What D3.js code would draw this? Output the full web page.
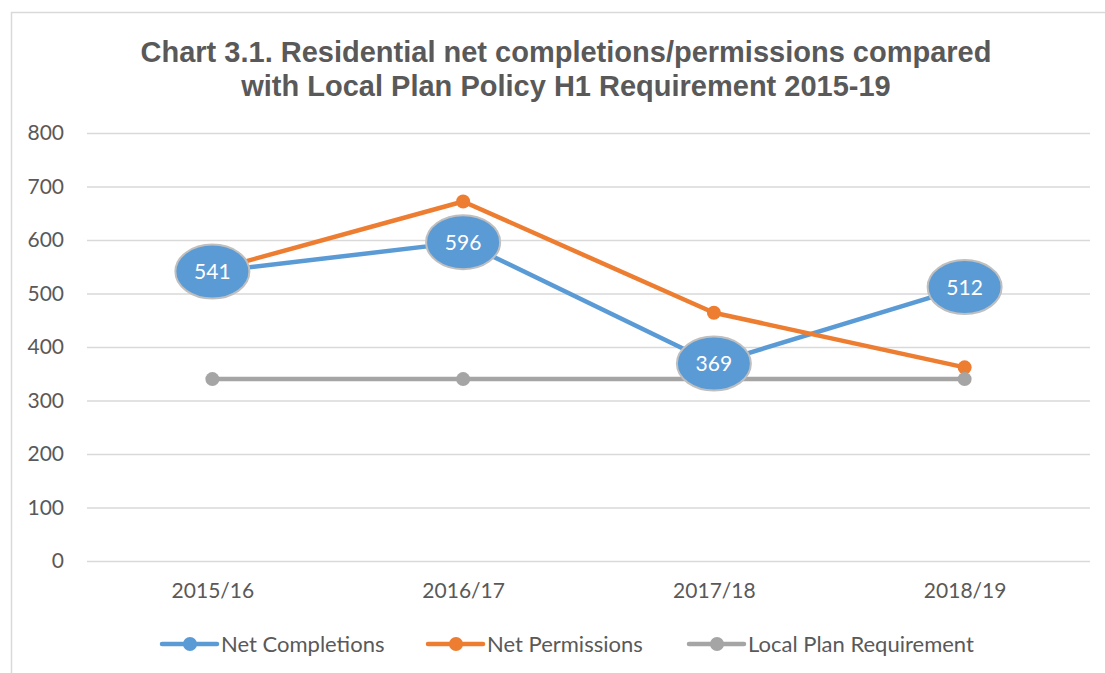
<!DOCTYPE html>
<html>
<head>
<meta charset="utf-8">
<script src="https://cdn.jsdelivr.net/npm/d3@7"></script>
<style>
  body { margin: 0; background: #fff; }
  text { font-family: "Lato", "Open Sans", sans-serif; }
</style>
</head>
<body>
<div id="wrapper"></div>
<script>
// data
const years = ["2015/16", "2016/17", "2017/18", "2018/19"];
const netCompletions = [541, 596, 369, 512];
const netPermissions = [543, 672, 464, 362];
const localPlanRequirement = [340, 340, 340, 340];
const yTicks = [0, 100, 200, 300, 400, 500, 600, 700, 800];

const series = [
    { name: "Net Completions", values: netCompletions, color: "#5B9BD5", labels: true, legendX: 162 },
    { name: "Net Permissions", values: netPermissions, color: "#ED7D31", labels: false, legendX: 428 },
    { name: "Local Plan Requirement", values: localPlanRequirement, color: "#A5A5A5", labels: false, legendX: 689 }
];

const dimension = {
    width: 1105,
    height: 673,
    margin: { top: 133, left: 87, bottom: 112, right: 15 }
};
dimension.boundedWidth = dimension.width - dimension.margin.left - dimension.margin.right;
dimension.boundedHeight = dimension.height - dimension.margin.top - dimension.margin.bottom;

const svg = d3.select("#wrapper").append("svg")
    .attr("width", dimension.width)
    .attr("height", dimension.height);

// chart frame
svg.append("rect")
    .attr("x", 11.5).attr("y", 12.5)
    .attr("width", 1110).attr("height", 680)
    .attr("fill", "none")
    .attr("stroke", "#D9D9D9")
    .attr("stroke-width", 1.5);

// title
const title = svg.append("text")
    .attr("text-anchor", "middle")
    .attr("fill", "#595959")
    .style("font-family", "'Liberation Sans', Arial, sans-serif")
    .style("font-weight", "bold")
    .style("font-size", "29px");
title.append("tspan").attr("x", 566).attr("y", 62).text("Chart 3.1. Residential net completions/permissions compared");
title.append("tspan").attr("x", 566).attr("y", 96).text("with Local Plan Policy H1 Requirement 2015-19");

const bounded = svg.append("g")
    .attr("transform", `translate(${dimension.margin.left}, ${dimension.margin.top})`);

const xScaler = d3.scalePoint()
    .domain(years)
    .range([0, dimension.boundedWidth])
    .padding(0.5);

const yScaler = d3.scaleLinear()
    .domain([0, 800])
    .range([428, 0]);

// gridlines + y labels
const yAxis = d3.axisLeft(yScaler)
    .tickValues(yTicks)
    .tickSize(-dimension.boundedWidth)
    .tickPadding(23);
bounded.append("g")
    .call(yAxis)
    .call(g => g.select(".domain").remove())
    .call(g => g.selectAll(".tick line").attr("stroke", "#D9D9D9").attr("stroke-width", 1.3))
    .call(g => g.selectAll(".tick text")
        .attr("fill", "#595959")
        .style("font-size", "21px"));

// x labels
const xAxis = d3.axisBottom(xScaler).tickSize(0).tickPadding(22);
bounded.append("g")
    .attr("transform", `translate(0, 428)`)
    .call(xAxis)
    .call(g => g.select(".domain").remove())
    .call(g => g.selectAll(".tick text")
        .attr("fill", "#595959")
        .style("font-size", "21px"));

const lineGenerator = d3.line()
    .x((d, i) => xScaler(years[i]))
    .y(d => yScaler(d));

series.forEach(s => {
    bounded.append("path")
        .attr("d", lineGenerator(s.values))
        .attr("fill", "none")
        .attr("stroke", s.color)
        .attr("stroke-width", 4.5)
        .attr("stroke-linejoin", "round");
    bounded.selectAll(null)
        .data(s.values)
        .join("circle")
        .attr("cx", (d, i) => xScaler(years[i]))
        .attr("cy", d => yScaler(d))
        .attr("r", 7)
        .attr("fill", s.color);
});

// data labels for net completions
const lbl = bounded.selectAll(".lbl")
    .data(netCompletions)
    .join("g")
    .attr("transform", (d, i) => `translate(${xScaler(years[i])}, ${yScaler(d)})`);
lbl.append("ellipse")
    .attr("rx", 37).attr("ry", 27)
    .attr("fill", "#5B9BD5")
    .attr("stroke", "#BFBFBF")
    .attr("stroke-width", 2);
lbl.append("text")
    .attr("text-anchor", "middle")
    .attr("dy", "0.36em")
    .attr("fill", "#fff")
    .style("font-size", "21px")
    .text(d => d);

// legend
const legend = svg.append("g").attr("transform", "translate(0, 644)");
series.forEach(s => {
    const g = legend.append("g").attr("transform", `translate(${s.legendX}, 0)`);
    g.append("line")
        .attr("x1", 0).attr("x2", 55)
        .attr("stroke", s.color)
        .attr("stroke-width", 4.5)
        .attr("stroke-linecap", "round");
    g.append("circle").attr("cx", 28).attr("r", 7).attr("fill", s.color);
    g.append("text")
        .attr("x", 59)
        .attr("dy", "0.36em")
        .attr("fill", "#595959")
        .style("font-size", "22px")
        .text(s.name);
});
</script>
</body>
</html>
